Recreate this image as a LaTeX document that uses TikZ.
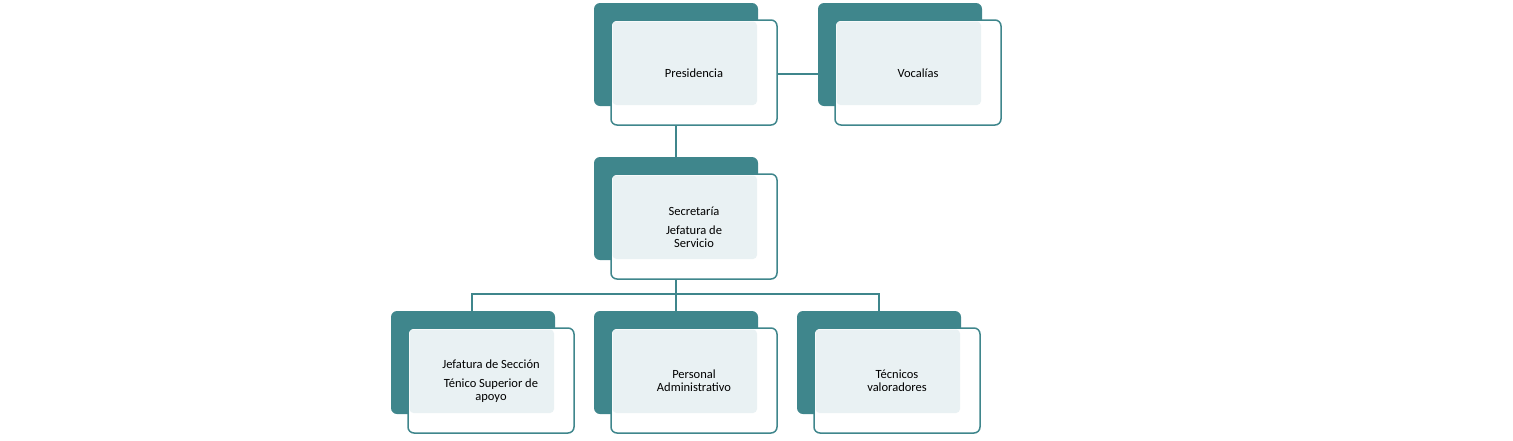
\documentclass[tikz,border=0pt]{standalone}
\usepackage{fontspec}
\setmainfont{Carlito}
\definecolor{teal1}{HTML}{3F868C}
\definecolor{light1}{HTML}{E9F1F3}
\tikzset{
  back/.style={fill=teal1, rounded corners=6pt},
  front/.style={draw=teal1, line width=1.5pt, fill=white, rounded corners=6pt},
  conn/.style={draw=teal1, line width=1.5pt},
  lbl/.style={align=center, font=\fontsize{12.5}{19}\selectfont, text=black}
}
\newcommand{\orgbox}[6]{% name, dx1, dy1 (dark top-left), text
  \fill[back] (#2,#3) rectangle ++(164,103);
  \draw[front] (#2+17,#3+17) rectangle ++(166,105);
  \fill[light1, rounded corners=4pt] (#2+18.5,#3+18.5) rectangle (#2+164-1,#3+103-1);
  \node[lbl] (#1) at (#2+100,#3+70) {#4};
  \coordinate (#1-top) at (#2+82,#3);
  \coordinate (#1-bot) at (#2+82,#3+122);
}
\begin{document}
\begin{tikzpicture}[x=1pt,y=-1pt]
\useasboundingbox (0,0) rectangle (1513,440);
\coordinate (pv1) at (777,74); \coordinate (pv2) at (818,74);
\draw[conn] (pv1) -- (pv2);
\draw[conn] (676,106) -- (676,157);
\draw[conn] (676,278) -- (676,294) coordinate (j);
\draw[conn] (472,311) |- (j) -| (879,311);
\draw[conn] (j) -- (676,311);
\orgbox{pres}{594}{3}{Presidencia}{}{}
\orgbox{voc}{818}{3}{Vocalías}{}{}
\orgbox{sec}{594}{157}{Secretaría\\Jefatura de\\[-6pt]Servicio}{}{}
\orgbox{jef}{391}{311}{Jefatura de Sección\\Ténico Superior de\\[-6pt]apoyo}{}{}
\orgbox{per}{594}{311}{Personal\\[-6pt]Administrativo}{}{}
\orgbox{tec}{797}{311}{Técnicos\\[-6pt]valoradores}{}{}
\end{tikzpicture}
\end{document}
